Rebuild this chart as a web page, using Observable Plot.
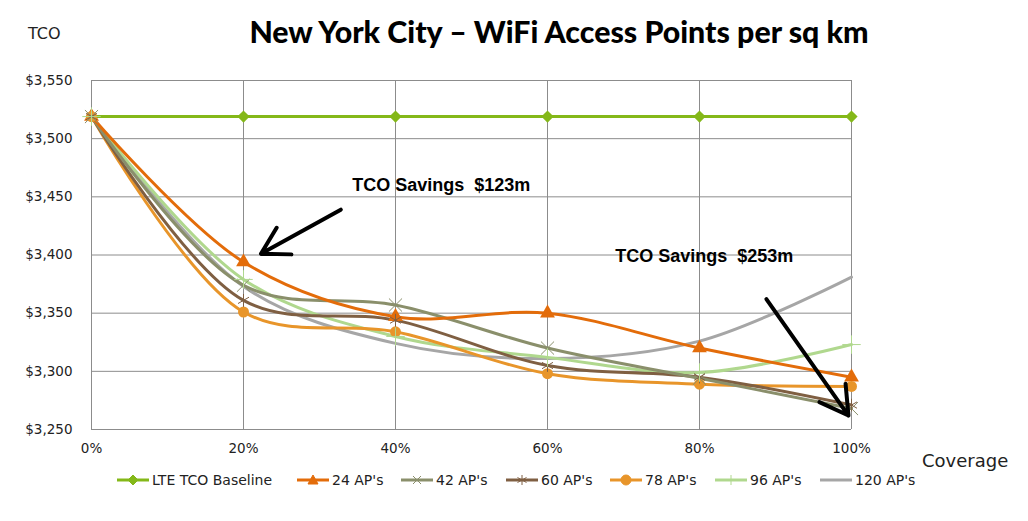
<!DOCTYPE html>
<html>
<head>
<meta charset="utf-8">
<script src="https://cdn.jsdelivr.net/npm/d3@7"></script>
<script src="https://cdn.jsdelivr.net/npm/@observablehq/plot@0.6"></script>
<style>
  body { margin: 0; background: #fff; }
  #wrap { position: relative; width: 1028px; height: 521px; font-family: "DejaVu Sans", sans-serif; color: #222; }
  #title { position: absolute; left: 0; width: 1118px; top: 13px; text-align: center; font: 900 30.3px "Lato", sans-serif; color: #000; }
  #tco { position: absolute; left: 28px; top: 24px; font-size: 16px; }
  #cov { position: absolute; left: 922px; top: 450px; font-size: 18px; }
  #legend { position: absolute; top: 472px; left: 0; width: 1028px; height: 20px; font-size: 14px; }
  .li { position: absolute; display: flex; align-items: center; }
  .li svg { margin-right: 3px; }
  #chart { position: absolute; left: 0; top: 0; }
</style>
</head>
<body>
<div id="wrap">
  <div id="chart"></div>
  <div id="title">New York City – WiFi Access Points per sq km</div>
  <div id="tco">TCO</div>
  <div id="cov">Coverage</div>
  <div id="legend"></div>
</div>
<script>
// ---- data ----
const coverage = [0, 20, 40, 60, 80, 100];
const seriesNames = ["LTE TCO Baseline", "24 AP's", "42 AP's", "60 AP's", "78 AP's", "96 AP's", "120 AP's"];
const baseline = [3519, 3519, 3519, 3519, 3519, 3519];
const ap24  = [3519, 3394, 3347, 3350, 3320, 3295];
const ap42  = [3519, 3374, 3357, 3320, 3294, 3268];
const ap60  = [3519, 3361, 3344, 3305, 3295, 3271];
const ap78  = [3519, 3351, 3334, 3298, 3289, 3287];
const ap96  = [3519, 3379, 3330, 3312, 3299, 3323];
const ap120 = [3519, 3373, 3324, 3311, 3326, 3381];
const seriesColors = ["#84B819", "#E36C0A", "#8A8F6B", "#7F5F42", "#E8952A", "#B0D88E", "#A6A6A6"];
const seriesSymbols = ["diamond2", "triangle", "times", "asterisk", "circle", "plus", null];
const yTicks = [3250, 3300, 3350, 3400, 3450, 3500, 3550];
const xTicks = [0, 20, 40, 60, 80, 100];
const notes = [
  {label: "TCO Savings  $123m", x: 34.3, y: 3460, x1: 32.8, y1: 3439, x2: 22.3, y2: 3401},
  {label: "TCO Savings  $253m", x: 68.9, y: 3399, x1: 88.8, y1: 3362, x2: 99.6, y2: 3262}
];
const legendLefts = [117, 297, 401, 506, 610, 715, 820];

const valuesBySeries = [baseline, ap24, ap42, ap60, ap78, ap96, ap120];
const rows = [];
seriesNames.forEach((s, i) => coverage.forEach((c, j) => rows.push({series: s, cov: c, tco: valuesBySeries[i][j], idx: i})));
const symOf = Object.fromEntries(seriesNames.map((s, i) => [s, seriesSymbols[i]]));
const fillSyms = new Set(["diamond2", "triangle", "circle"]);
const strokeSyms = new Set(["times", "asterisk", "plus"]);

const plot = Plot.plot({
  width: 1028, height: 521,
  marginTop: 80, marginBottom: 92, marginLeft: 91, marginRight: 177,
  style: {fontFamily: "'DejaVu Sans', sans-serif", color: "#222", background: "transparent"},
  x: {domain: [0, 100]},
  y: {domain: [3250, 3550]},
  color: {domain: seriesNames, range: seriesColors},
  symbol: {domain: seriesNames.filter((s, i) => seriesSymbols[i]), range: seriesSymbols.filter(d => d)},
  marks: [
    Plot.axisX(xTicks, {tickFormat: d => d + "%", tickSize: 0, tickPadding: 14, label: null, fontSize: 13.5, fill: "#222"}),
    Plot.axisY(yTicks, {tickFormat: d3.format("$,"), tickSize: 0, tickPadding: 19, label: null, fontSize: 13.5, fill: "#222"}),
    Plot.ruleY(yTicks, {stroke: "#8c8c8c", strokeWidth: 1}),
    Plot.ruleX(xTicks, {stroke: "#8c8c8c", strokeWidth: 1}),
    Plot.line(rows.slice().reverse(), {x: "cov", y: "tco", z: "series", stroke: "series", strokeWidth: 3, curve: "catmull-rom"}),
    Plot.dot(rows.filter(d => fillSyms.has(symOf[d.series])), {x: "cov", y: "tco", symbol: "series", fill: "series", r: 5.5}),
    Plot.dot(rows.filter(d => strokeSyms.has(symOf[d.series])), {x: "cov", y: "tco", symbol: "series", stroke: "series", strokeWidth: 1, r: 6}),
    Plot.arrow(notes, {x1: "x1", y1: "y1", x2: "x2", y2: "y2", stroke: "#000", strokeWidth: 4, headLength: 12, headAngle: 60, bend: 0}),
    Plot.text(notes, {x: "x", y: "y", text: "label", textAnchor: "start", fontFamily: "'Liberation Sans', Arial, sans-serif", fontWeight: "bold", fontSize: 18, fill: "#000"})
  ]
});
document.getElementById("chart").appendChild(plot);

// legend
const leg = document.getElementById("legend");
const symPath = {
  diamond2: '<path d="M16,1 L21,6 L16,11 L11,6Z" />',
  triangle: '<path d="M16,1 L21,10 L11,10Z" />',
  times: '<path d="M12,2 L20,10 M20,2 L12,10" fill="none" stroke-width="1"/>',
  asterisk: '<path d="M16,1 L16,11 M11.5,3.5 L20.5,8.5 M20.5,3.5 L11.5,8.5" fill="none" stroke-width="1"/>',
  circle: '<circle cx="16" cy="6" r="5" />',
  plus: '<path d="M16,1 L16,11" fill="none" stroke-width="1"/>'
};
seriesNames.forEach((s, i) => {
  const c = seriesColors[i];
  const sym = seriesSymbols[i] ? symPath[seriesSymbols[i]] : "";
  const el = document.createElement("div");
  el.className = "li";
  el.style.left = legendLefts[i] + "px";
  el.innerHTML = `<svg width="32" height="12" fill="${c}" stroke="${c}"><line x1="0" x2="32" y1="6" y2="6" stroke-width="3"/>${sym}</svg><span>${s}</span>`;
  leg.appendChild(el);
});
</script>
</body>
</html>
